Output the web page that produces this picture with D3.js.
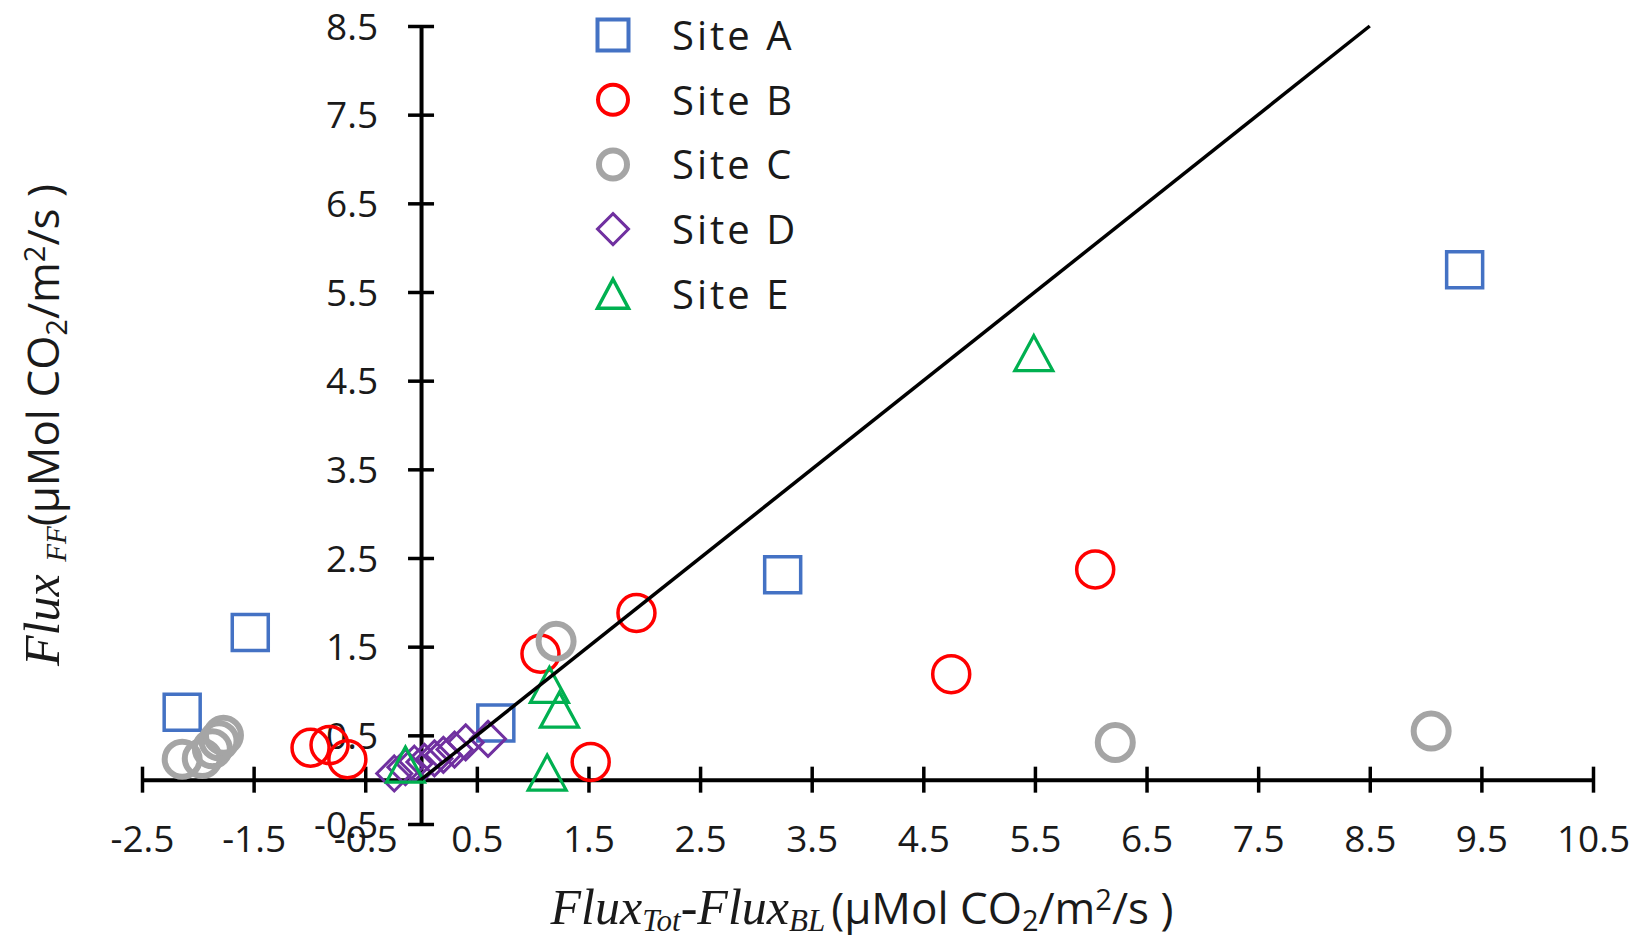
<!DOCTYPE html>
<html>
<head>
<meta charset="utf-8">
<script src="https://cdn.jsdelivr.net/npm/d3@7"></script>
<style>
  html, body { margin: 0; padding: 0; background: #ffffff; }
  svg { display: block; }
</style>
</head>
<body>
<svg id="chart" width="1637" height="940"></svg>
<script>
// ---- data ----
const siteNames = ["Site A", "Site B", "Site C", "Site D", "Site E"];

const siteA_x = [-2.14, -1.53, 0.67, 3.24, 9.35];
const siteA_y = [0.76, 1.66, 0.64, 2.31, 5.75];

const siteB_x = [-0.99, -0.82, -0.66, 1.07, 1.52, 1.93, 4.75, 6.04];
const siteB_y = [0.36, 0.39, 0.23, 1.42, 0.20, 1.88, 1.19, 2.37];

const siteC_x = [-2.14, -1.96, -1.87, -1.81, -1.77, 1.21, 6.22, 9.05];
const siteC_y = [0.23, 0.24, 0.35, 0.44, 0.50, 1.56, 0.42, 0.55];

const siteD_x = [-0.24, -0.14, -0.06, 0.03, 0.12, 0.20, 0.30, 0.40, 0.60];
const siteD_y = [0.07, 0.14, 0.18, 0.20, 0.24, 0.28, 0.34, 0.42, 0.46];

const siteE_x = [-0.14, 1.13, 1.15, 1.24, 5.49];
const siteE_y = [0.17, 0.08, 1.07, 0.79, 4.81];

// 1:1 reference line
const refLine_x = [0, 8.5];
const refLine_y = [0, 8.5];

const xTicks = [-2.5, -1.5, -0.5, 0.5, 1.5, 2.5, 3.5, 4.5, 5.5, 6.5, 7.5, 8.5, 9.5, 10.5];
const yTicks = [-0.5, 0.5, 1.5, 2.5, 3.5, 4.5, 5.5, 6.5, 7.5, 8.5];

// ---- layout ----
const svg = d3.select("#chart");
const x = d3.scaleLinear().domain([-2.5, 10.5]).range([142, 1593]);
const y = d3.scaleLinear().domain([-0.5, 8.5]).range([824, 26]);

const sansFont = "'Open Sans', 'Noto Sans', sans-serif";
const serifFont = "'Liberation Serif', 'DejaVu Serif', serif";
const textColor = "#1a1a1a";

// marker shapes
const triangleShape = (w, h) => ({
  draw(ctx) {
    ctx.moveTo(0, -h / 2);
    ctx.lineTo(w / 2, h / 2);
    ctx.lineTo(-w / 2, h / 2);
    ctx.closePath();
  }
});
const squareShape = (s) => ({
  draw(ctx) { ctx.rect(-s / 2, -s / 2, s, s); }
});
const diamondShape = (d) => ({
  draw(ctx) {
    ctx.moveTo(0, -d / 2);
    ctx.lineTo(d / 2, 0);
    ctx.lineTo(0, d / 2);
    ctx.lineTo(-d / 2, 0);
    ctx.closePath();
  }
});
const circleShape = (r) => ({
  draw(ctx) { ctx.moveTo(r, 0); ctx.arc(0, 0, r, 0, 2 * Math.PI); }
});

const series = [
  { name: siteNames[0], xs: siteA_x, ys: siteA_y, color: "#4472C4", sw: 3.5, shape: squareShape(36), legendShape: squareShape(31), lsw: 4 },
  { name: siteNames[1], xs: siteB_x, ys: siteB_y, color: "#FF0000", sw: 3.5, shape: circleShape(18.5), legendShape: circleShape(15), lsw: 4 },
  { name: siteNames[2], xs: siteC_x, ys: siteC_y, color: "#A5A5A5", sw: 6, shape: circleShape(17.5), legendShape: circleShape(14), lsw: 6 },
  { name: siteNames[3], xs: siteD_x, ys: siteD_y, color: "#7030A0", sw: 3, shape: diamondShape(35), legendShape: diamondShape(31), lsw: 3 },
  { name: siteNames[4], xs: siteE_x, ys: siteE_y, color: "#00B050", sw: 3.2, shape: triangleShape(38, 35), legendShape: triangleShape(31, 29), lsw: 3.5 }
];

// ---- axes (crossing at the origin) ----
const xAxis = d3.axisBottom(x)
  .tickValues(xTicks)
  .tickSizeInner(13)
  .tickSizeOuter(0)
  .tickFormat(d => d.toFixed(1));

const gx = svg.append("g")
  .attr("transform", `translate(0,${y(0)})`)
  .call(xAxis);
gx.attr("font-family", sansFont);
gx.select(".domain").attr("stroke", "#000").attr("stroke-width", 4);
gx.selectAll(".tick line").attr("y1", -13).attr("y2", 13).attr("stroke", "#000").attr("stroke-width", 3.5);
gx.selectAll(".tick text")
  .attr("y", 72).attr("dy", null)
  .attr("font-family", sansFont).attr("font-size", 37)
  .attr("fill", textColor);

const yAxis = d3.axisLeft(y)
  .tickValues(yTicks)
  .tickSizeInner(13)
  .tickSizeOuter(0)
  .tickFormat(d => d.toFixed(1));

const gy = svg.append("g")
  .attr("transform", `translate(${x(0)},0)`)
  .call(yAxis);
gy.attr("font-family", sansFont);
gy.select(".domain").attr("stroke", "#000").attr("stroke-width", 4);
gy.selectAll(".tick line").attr("x1", 13).attr("x2", -13).attr("stroke", "#000").attr("stroke-width", 3.5);
gy.selectAll(".tick text")
  .attr("x", -43).attr("dy", "0.36em")
  .attr("font-family", sansFont).attr("font-size", 37)
  .attr("fill", textColor);

// ---- scatter markers ----
series.forEach(s => {
  const pts = s.xs.map((v, i) => [v, s.ys[i]]);
  const sym = d3.symbol().type(s.shape);
  svg.append("g")
    .selectAll("path")
    .data(pts)
    .join("path")
    .attr("transform", d => `translate(${x(d[0])},${y(d[1])})`)
    .attr("d", sym)
    .attr("fill", "none")
    .attr("stroke", s.color)
    .attr("stroke-width", s.sw);
});

// ---- 1:1 line ----
const linePts = refLine_x.map((v, i) => [v, refLine_y[i]]);
svg.append("path")
  .datum(linePts)
  .attr("d", d3.line().x(d => x(d[0])).y(d => y(d[1])))
  .attr("fill", "none")
  .attr("stroke", "#000")
  .attr("stroke-width", 3.5);

// ---- legend ----
const legend = svg.append("g").attr("transform", "translate(613,35)");
series.forEach((s, i) => {
  const row = legend.append("g").attr("transform", `translate(0,${i * 64.7})`);
  row.append("path")
    .attr("d", d3.symbol().type(s.legendShape)())
    .attr("fill", "none")
    .attr("stroke", s.color)
    .attr("stroke-width", s.lsw);
  row.append("text")
    .attr("x", 59)
    .attr("y", 15)
    .attr("font-family", sansFont)
    .attr("font-size", 40)
    .attr("letter-spacing", 3)
    .attr("fill", textColor)
    .text(s.name);
});

// ---- axis titles ----
const xTitle = svg.append("text")
  .attr("x", 862)
  .attr("y", 924)
  .attr("text-anchor", "middle")
  .attr("fill", textColor);
xTitle.append("tspan").attr("font-family", serifFont).attr("font-style", "italic").attr("font-size", 50).text("Flux");
xTitle.append("tspan").attr("font-family", serifFont).attr("font-style", "italic").attr("font-size", 31).attr("dy", 7).text("Tot");
xTitle.append("tspan").attr("font-family", serifFont).attr("font-style", "italic").attr("font-size", 50).attr("dy", -7).text("-Flux");
xTitle.append("tspan").attr("font-family", serifFont).attr("font-style", "italic").attr("font-size", 31).attr("dy", 7).text("BL");
xTitle.append("tspan").attr("font-family", sansFont).attr("font-size", 44).attr("dy", -7).attr("dx", 6).text("(µMol CO");
xTitle.append("tspan").attr("font-family", sansFont).attr("font-size", 29).attr("dy", 7).text("2");
xTitle.append("tspan").attr("font-family", sansFont).attr("font-size", 44).attr("dy", -7).text("/m");
xTitle.append("tspan").attr("font-family", sansFont).attr("font-size", 29).attr("dy", -14).text("2");
xTitle.append("tspan").attr("font-family", sansFont).attr("font-size", 44).attr("dy", 14).text("/s )");

const yTitle = svg.append("text")
  .attr("transform", "translate(59,425) rotate(-90)")
  .attr("text-anchor", "middle")
  .attr("fill", textColor);
yTitle.append("tspan").attr("font-family", serifFont).attr("font-style", "italic").attr("font-size", 50).text("Flux ");
yTitle.append("tspan").attr("font-family", serifFont).attr("font-style", "italic").attr("font-size", 29).attr("dy", 7).text("FF");
yTitle.append("tspan").attr("font-family", sansFont).attr("font-size", 44).attr("dy", -7).text("(µMol CO");
yTitle.append("tspan").attr("font-family", sansFont).attr("font-size", 29).attr("dy", 8).text("2");
yTitle.append("tspan").attr("font-family", sansFont).attr("font-size", 44).attr("dy", -8).text("/m");
yTitle.append("tspan").attr("font-family", sansFont).attr("font-size", 29).attr("dy", -14).text("2");
yTitle.append("tspan").attr("font-family", sansFont).attr("font-size", 44).attr("dy", 14).text("/s )");
</script>
</body>
</html>
